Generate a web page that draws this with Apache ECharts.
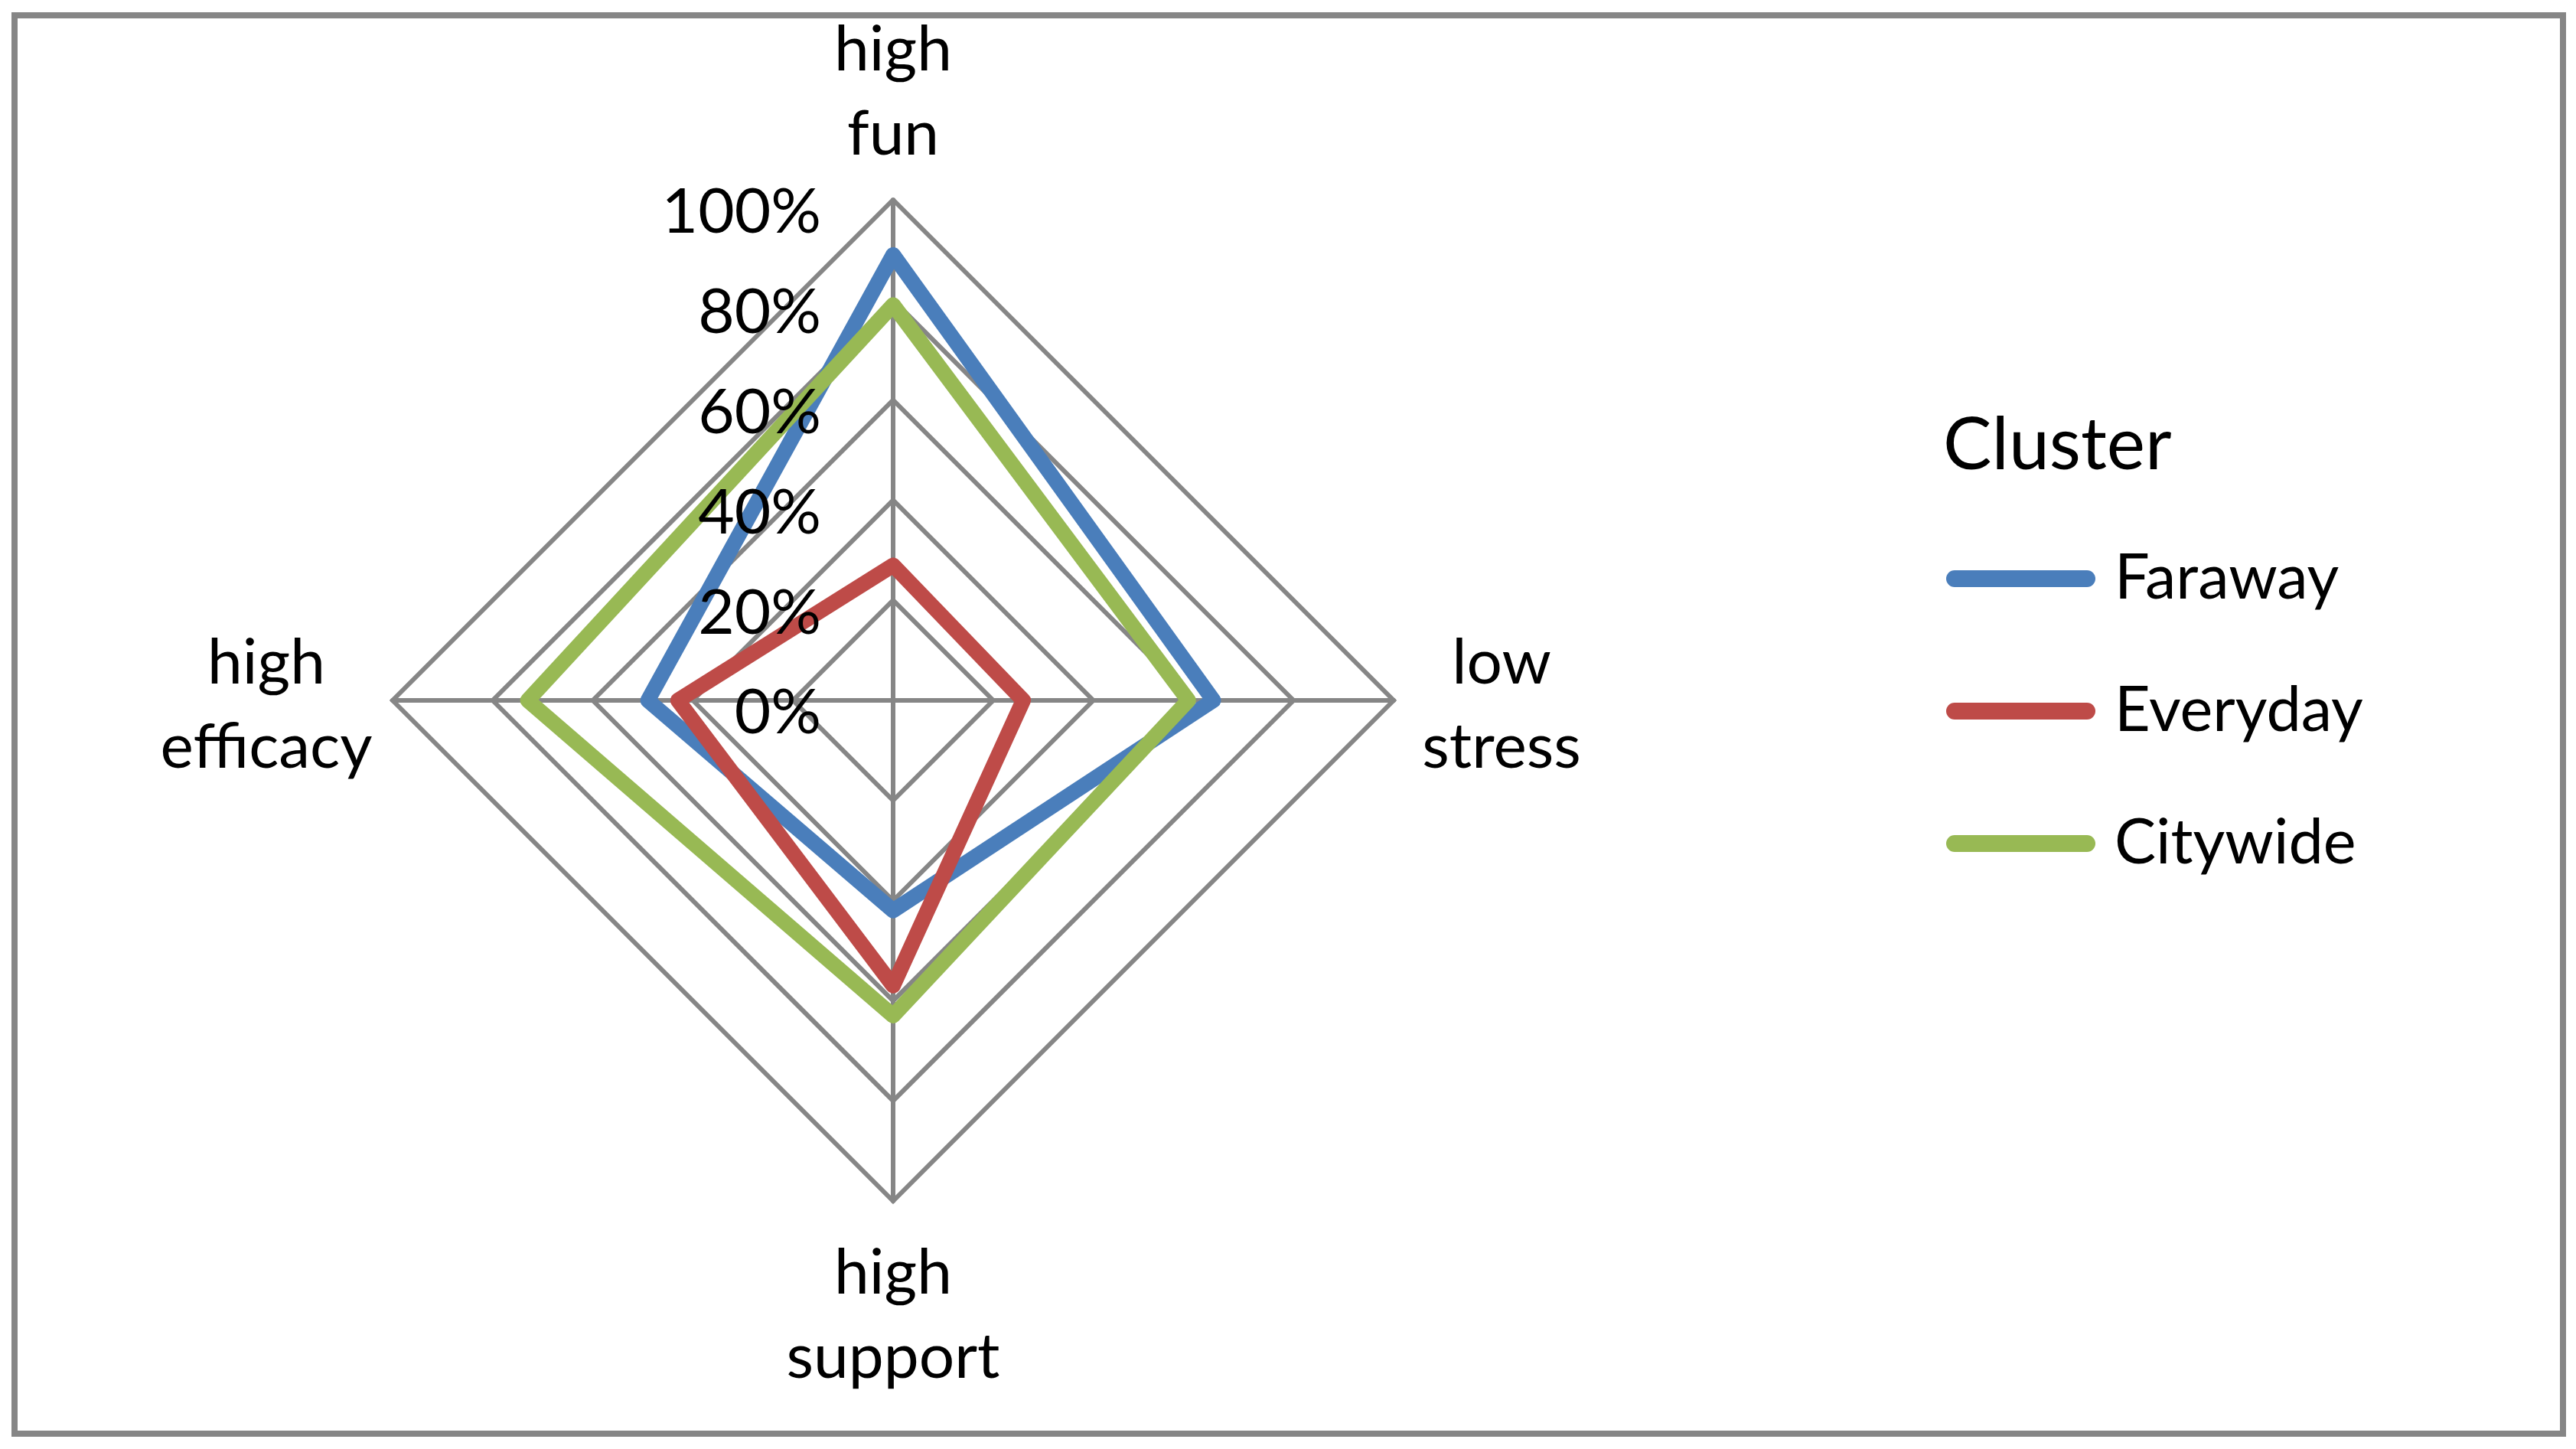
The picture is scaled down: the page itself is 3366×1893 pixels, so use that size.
<!DOCTYPE html>
<html>
<head>
<meta charset="utf-8">
<script src="https://cdn.jsdelivr.net/npm/echarts@6/dist/echarts.min.js"></script>
<style>
html,body{margin:0;padding:0;background:#fff;}
#c{width:3366px;height:1893px;}
</style>
</head>
<body>
<div id="c"></div>
<script>
// Indicators in ECharts order (top, then counter-clockwise)
const categories = ['high fun', 'high efficacy', 'high support', 'low stress'];
const seriesNames = ['Faraway', 'Everyday', 'Citywide'];
const faraway  = [0.89, 0.49, 0.42, 0.64];
const everyday = [0.27, 0.43, 0.57, 0.26];
const citywide = [0.79, 0.73, 0.63, 0.59];
const tickValues = [0, 0.2, 0.4, 0.6, 0.8, 1.0];
const colors = ['#4A7EBB', '#BE4B48', '#98B954'];

const FONT = 'Lato';
const GRAY = '#868686';
const seriesData = [faraway, everyday, citywide];

const chart = echarts.init(document.getElementById('c'), null, {renderer: 'canvas'});

const styleFor = ['t', 'l', 'b', 'r'];
const lineStyleBase = {fontFamily: FONT, fontSize: 82, lineHeight: 110, color: '#000', align: 'center'};

const option = {
  animation: false,
  backgroundColor: '#fff',
  color: colors,
  graphic: [{
    type: 'rect',
    shape: {x: 19, y: 20, width: 3330, height: 1853},
    style: {fill: 'none', stroke: GRAY, lineWidth: 8},
    silent: true
  }],
  title: {
    text: 'Cluster',
    left: 2534,
    top: 522,
    textStyle: {fontFamily: FONT, fontSize: 95, fontWeight: 'normal', color: '#000', lineHeight: 110}
  },
  legend: {
    orient: 'vertical',
    left: 2538,
    top: 703,
    itemWidth: 195,
    itemHeight: 22,
    itemGap: 77,
    data: seriesNames.map(n => ({name: n, icon: 'path://M11,0 L184,0 A11,11 0 0 1 184,22 L11,22 A11,11 0 0 1 11,0 Z'})),
    textStyle: {fontFamily: FONT, fontSize: 81, color: '#000', lineHeight: 96, padding: [0, 0, 0, 20]}
  },
  grid: {left: 1167, top: 261, width: 1, height: 654, z: 20},
  xAxis: {type: 'value', show: false},
  yAxis: {
    type: 'value', min: 0, max: 1, interval: 0.2, z: 20,
    axisLine: {show: false}, axisTick: {show: false}, splitLine: {show: false},
    axisLabel: {
      margin: 94,
      verticalAlign: 'top',
      lineHeight: 34,
      fontFamily: FONT, fontSize: 82, color: '#000',
      formatter: v => Math.round(v * 100) + '%'
    }
  },
  radar: {
    center: [1167, 915],
    radius: 654,
    startAngle: 90,
    splitNumber: 5,
    shape: 'polygon',
    nameGap: 15,
    indicator: categories.map(n => ({name: n, min: 0, max: 1})),
    axisName: {
      color: '#000',
      fontFamily: FONT,
      fontSize: 82,
      formatter: function (name) {
        const i = categories.indexOf(name);
        const s = styleFor[i];
        const parts = name.split(' ');
        const body = parts.map(p => '{' + s + '|' + p + '}').join('\n');
        if (s === 't') return body + '\n{sp|\u00a0}';
        if (s === 'b') return '{sb|\u00a0}\n' + body;
        return '{sm|\u00a0}\n' + body;
      },
      rich: {
        t: Object.assign({}, lineStyleBase, {width: 320}),
        b: Object.assign({}, lineStyleBase, {width: 320}),
        l: Object.assign({}, lineStyleBase, {width: 300}),
        r: Object.assign({}, lineStyleBase, {width: 252}),
        sp: {fontSize: 1, lineHeight: 15, height: 15},
        sb: {fontSize: 1, lineHeight: 25, height: 25},
        sm: {fontSize: 1, lineHeight: 14, height: 14}
      }
    },
    axisLine: {lineStyle: {color: GRAY, width: 6}},
    splitLine: {lineStyle: {color: GRAY, width: 6}},
    splitArea: {show: false},
    axisTick: {show: false},
    axisLabel: {show: false}
  },
  series: seriesNames.map((n, k) => ({
    name: n,
    type: 'radar',
    symbol: 'none',
    silent: true,
    z: 2 + k,
    lineStyle: {color: colors[k], width: 20, join: 'round', cap: 'round'},
    itemStyle: {color: colors[k]},
    emphasis: {disabled: true},
    data: [{name: n, value: seriesData[k]}]
  }))
};
chart.setOption(option);
</script>
</body>
</html>
